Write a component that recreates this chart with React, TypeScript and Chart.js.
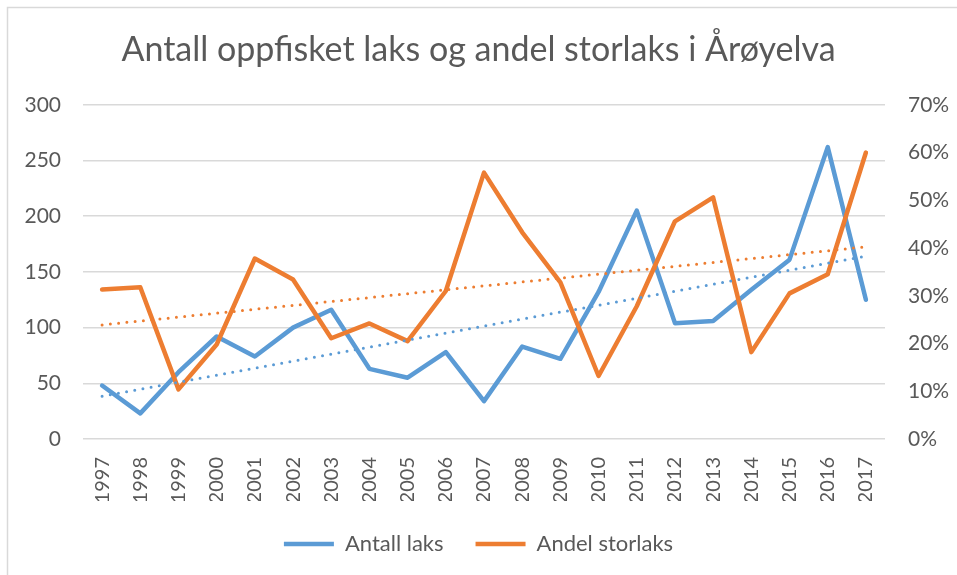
import React, { useEffect, useRef } from "react";
import { Chart, registerables } from "chart.js";

Chart.register(...registerables);

const TITLE = "Antall oppfisket laks og andel storlaks i Årøyelva";
const years = ["1997","1998","1999","2000","2001","2002","2003","2004","2005","2006","2007","2008","2009","2010","2011","2012","2013","2014","2015","2016","2017"];
const antallLaks = [48, 23, 60, 92, 74, 100, 116, 63, 55, 78, 34, 83, 72, 132, 205, 104, 106, 134, 161, 262, 125];
const andelStorlaks = [0.313, 0.318, 0.104, 0.198, 0.378, 0.334, 0.211, 0.242, 0.205, 0.31, 0.558, 0.433, 0.328, 0.132, 0.278, 0.456, 0.506, 0.182, 0.305, 0.345, 0.6];
const leftTicks = [0, 50, 100, 150, 200, 250, 300];
const rightTicks = [0, 0.1, 0.2, 0.3, 0.4, 0.5, 0.6, 0.7];

const BLUE = "#5B9BD5";
const ORANGE = "#ED7D31";
const TEXT = "#595959";
const GRID = "#d9d9d9";
const FONT = "Lato";

// Linear (least-squares) trendline, as in the spreadsheet
function linearTrend(values: number[]): number[] {
  const n = values.length;
  const mx = (n - 1) / 2;
  const my = values.reduce((a, b) => a + b, 0) / n;
  let sxy = 0, sxx = 0;
  values.forEach((v, i) => { sxy += (i - mx) * (v - my); sxx += (i - mx) * (i - mx); });
  const slope = sxy / sxx;
  return values.map((_, i) => my + slope * (i - mx));
}

const borderPlugin = {
  id: "outerBorder",
  beforeDraw(chart: any) {
    const ctx = chart.ctx;
    ctx.save();
    ctx.fillStyle = "#ffffff";
    ctx.fillRect(0, 0, chart.width, chart.height);
    ctx.strokeStyle = GRID;
    ctx.lineWidth = 1.5;
    ctx.strokeRect(7.5, 7.5, chart.width + 20, chart.height + 20);
    ctx.restore();
  },
};

export default function App() {
  const ref = useRef<HTMLCanvasElement | null>(null);
  useEffect(() => {
    document.body.style.margin = "0";
    const canvas = ref.current!;
    const chart = new Chart(canvas, {
      type: "line",
      data: {
        labels: years,
        datasets: [
          {
            label: "Antall laks",
            data: antallLaks,
            yAxisID: "y",
            borderColor: BLUE,
            backgroundColor: BLUE,
            borderWidth: 4.5,
            borderJoinStyle: "round",
            borderCapStyle: "round",
            pointRadius: 0,
            tension: 0,
            order: 4,
          },
          {
            label: "Andel storlaks",
            data: andelStorlaks,
            yAxisID: "y1",
            borderColor: ORANGE,
            backgroundColor: ORANGE,
            borderWidth: 4.5,
            borderJoinStyle: "round",
            borderCapStyle: "round",
            pointRadius: 0,
            tension: 0,
            order: 3,
          },
          {
            label: "Lineær (Antall laks)",
            data: linearTrend(antallLaks),
            yAxisID: "y",
            borderColor: BLUE,
            borderWidth: 3,
            borderDash: [0, 8.3],
            borderCapStyle: "round",
            pointRadius: 0,
            order: 2,
          },
          {
            label: "Lineær (Andel storlaks)",
            data: linearTrend(andelStorlaks),
            yAxisID: "y1",
            borderColor: ORANGE,
            borderWidth: 3,
            borderDash: [0, 8.3],
            borderCapStyle: "round",
            pointRadius: 0,
            order: 1,
          },
        ],
      },
      options: {
        responsive: false,
        animation: false,
        layout: { padding: { left: 0, right: 0, top: 0, bottom: 10 } },
        plugins: {
          title: {
            display: true,
            text: TITLE,
            color: TEXT,
            font: { family: FONT, size: 34, weight: "normal" },
            padding: { top: 30, bottom: 34 },
          },
          legend: {
            position: "bottom",
            labels: {
              color: TEXT,
              font: { family: FONT, size: 22 },
              usePointStyle: true,
              pointStyle: "line",
              pointStyleWidth: 50,
              padding: 32,
              filter: (item: any) => item.datasetIndex < 2,
              sort: (a: any, b: any) => a.datasetIndex - b.datasetIndex,
            },
          },
          tooltip: { enabled: false },
        },
        scales: {
          x: {
            offset: true,
            grid: { display: false, drawTicks: false, offset: true },
            border: { display: false },
            ticks: {
              color: TEXT,
              font: { family: FONT, size: 20 },
              minRotation: 90,
              maxRotation: 90,
              padding: 18,
              autoSkip: false,
            },
            afterFit: (scale: any) => { scale.height = 62; },
          },
          y: {
            position: "left",
            min: 0,
            max: 300,
            afterBuildTicks: (scale: any) => { scale.ticks = leftTicks.map((v) => ({ value: v })); },
            grid: { color: GRID, lineWidth: 1.5, drawTicks: false },
            border: { display: false },
            ticks: { color: TEXT, font: { family: FONT, size: 21 }, padding: 22 },
            afterFit: (scale: any) => { scale.width = 83; },
          },
          y1: {
            position: "right",
            min: 0,
            max: 0.7,
            afterBuildTicks: (scale: any) => { scale.ticks = rightTicks.map((v) => ({ value: v })); },
            grid: { display: false, drawTicks: false },
            border: { display: false },
            ticks: {
              color: TEXT,
              font: { family: FONT, size: 21 },
              padding: 23,
              callback: (v: any) => Math.round(Number(v) * 100) + "%",
            },
            afterFit: (scale: any) => { scale.width = 72; },
          },
        },
      },
      plugins: [borderPlugin],
    });
    return () => chart.destroy();
  }, []);
  return (
    <div style={{ width: 957, height: 575 }}>
      <canvas ref={ref} width={957} height={575} />
    </div>
  );
}
